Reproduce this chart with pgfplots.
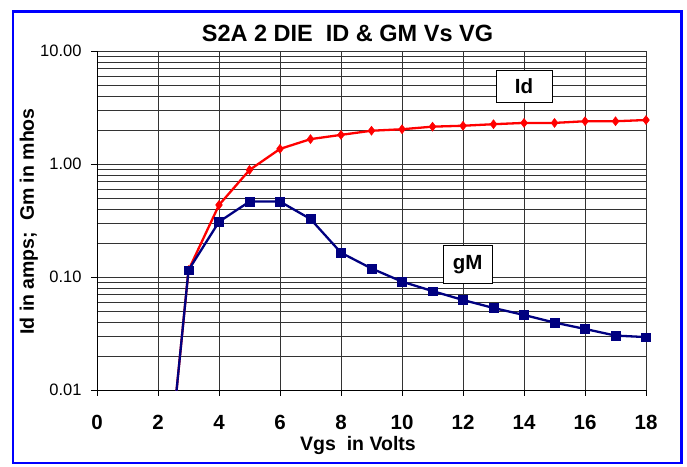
\documentclass[border=0pt]{standalone}
\usepackage{pgfplots}
\pgfplotsset{compat=1.18}
\usepackage{fontspec}
\setmainfont{Liberation Sans}
\definecolor{idred}{RGB}{255,0,0}
\definecolor{gmnavy}{RGB}{0,0,128}
\definecolor{frameblue}{RGB}{0,0,255}

\pgfplotstableread{
x y
2 0.00022
3 0.115
4 0.434
5 0.885
6 1.36
7 1.66
8 1.81
9 1.97
10 2.03
11 2.14
12 2.18
13 2.25
14 2.31
15 2.31
16 2.39
17 2.39
18 2.45
}\iddata

\pgfplotstableread{
x y
2 0.00022
3 0.115
4 0.308
5 0.465
6 0.465
7 0.326
8 0.164
9 0.119
10 0.091
11 0.0751
12 0.0626
13 0.0532
14 0.0461
15 0.0395
16 0.0347
17 0.0303
18 0.0294
}\gmdata

\begin{document}
\begin{tikzpicture}[x=1bp,y=1bp]
\useasboundingbox (-97,-77) rectangle (590,390);
\begin{axis}[
  at={(0,0)}, anchor=south west,
  scale only axis, width=549bp, height=339bp,
  xmin=0, xmax=18,
  ymode=log, log basis y=10, ymin=0.01, ymax=10,
  xtick={0,2,4,6,8,10,12,14,16,18},
  ytick={0.01,0.1,1,10},
  yticklabels={0.01,0.10,1.00,10.00},
  minor ytick={0.02,0.03,0.04,0.05,0.06,0.07,0.08,0.09,0.2,0.3,0.4,0.5,0.6,0.7,0.8,0.9,2,3,4,5,6,7,8,9},
  axis x line*=bottom, axis y line*=left,
  xmajorgrids, ymajorgrids, yminorgrids,
  major grid style={black!80, line width=0.7bp},
  minor grid style={black!80, line width=0.7bp},
  minor tick length=0pt,
  major tick length=6bp,
  tick align=outside,
  tick style={black, line width=0.8bp},
  axis line style={black, line width=0.9bp},
  /pgf/number format/assume math mode=true,
  xticklabel style={font=\fontsize{20.5bp}{24bp}\selectfont\bfseries, inner sep=0pt, anchor=base, yshift=-34bp},
  yticklabel style={font=\fontsize{16.5bp}{19bp}\selectfont, inner sep=0pt, anchor=east, xshift=-9.3bp},
  clip marker paths=false,
]
\addplot[idred, line width=2.3bp, mark=diamond*, mark size=4.5bp, mark options={solid, fill=idred, draw=idred, line width=0.5bp}] table[x=x,y=y] {\iddata};
\addplot[gmnavy, line width=2.3bp, mark=square*, mark size=4.3bp, mark options={solid, fill=gmnavy, draw=gmnavy, line width=0.5bp}] table[x=x,y=y] {\gmdata};
\node[draw=black, line width=0.8bp, fill=white, minimum width=56bp, minimum height=32bp, inner sep=0pt, font=\fontsize{20.5bp}{24bp}\selectfont\bfseries] at (axis cs:14,4.9) {Id};
\node[draw=black, line width=0.8bp, fill=white, minimum width=49bp, minimum height=38bp, inner sep=0pt, font=\fontsize{20.5bp}{24bp}\selectfont\bfseries] at (axis cs:12.15,0.130) {gM};
\end{axis}
\node[anchor=base, inner sep=0pt, font=\fontsize{23.5bp}{27bp}\selectfont\bfseries] at (250.5,348.3) {S2A 2 DIE\ \ ID \& GM Vs VG};
\node[anchor=base, inner sep=0pt, font=\fontsize{19.5bp}{23bp}\selectfont\bfseries] at (261,-60.7) {Vgs\ \ in Volts};
\node[anchor=base, rotate=90, inner sep=0pt, font=\fontsize{19.5bp}{23bp}\selectfont\bfseries] at (-63,168.5) {Id in amps;\ \ Gm in mhos};
\draw[frameblue, line width=2.6bp] (-84,-73) rectangle (584.3,378.7);
\end{tikzpicture}
\end{document}
